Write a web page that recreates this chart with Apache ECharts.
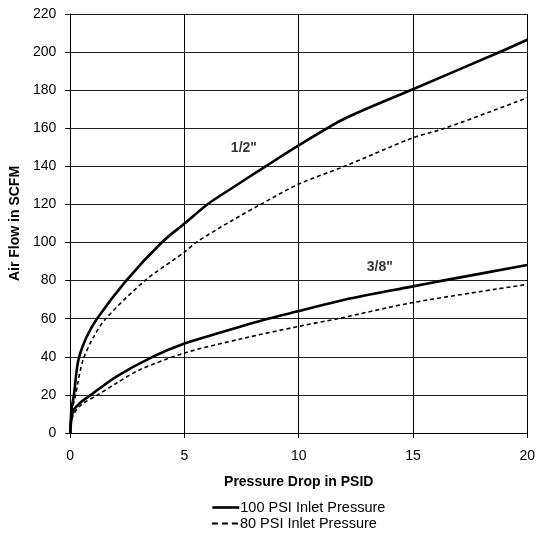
<!DOCTYPE html>
<html>
<head>
<meta charset="utf-8">
<script src="https://cdn.jsdelivr.net/npm/echarts@6/dist/echarts.min.js"></script>
<style>html,body{margin:0;padding:0;background:#fff}#c{width:538px;height:533px}</style>
</head>
<body>
<div id="c"></div>
<script>
// 1/2" valve, 100 PSI inlet
const half100X = [0, 0.05, 0.16, 0.35, 0.7, 1.17, 2.45, 4, 5, 6, 7, 8.55, 10, 12, 15, 18.7, 20];
const half100Y = [0, 12, 20, 38, 50, 60, 80, 100, 110, 120, 128, 140, 151, 165, 180.5, 199.5, 206.5];
// 1/2" valve, 80 PSI inlet
const half80X = [0, 0.05, 0.23, 0.55, 1, 1.55, 3.27, 5, 5.5, 7, 8.33, 10, 12, 15, 16.4, 20];
const half80Y = [0, 10, 20, 38, 50, 60, 80, 95, 100, 111, 120, 130.7, 140, 155, 160, 176];
// 3/8" valve, 100 PSI inlet
const three100X = [0, 0.05, 0.15, 0.5, 0.9, 2, 3.6, 5, 6.5, 8.65, 10, 12, 15, 16.3, 20];
const three100Y = [0, 7, 12, 16.5, 20, 29.5, 40, 47, 52.5, 60, 64, 70, 77, 80, 88.2];
// 3/8" valve, 80 PSI inlet
const three80X = [0, 0.05, 0.15, 0.5, 1.2, 2, 3, 5, 7.5, 10, 11.7, 15, 20];
const three80Y = [0, 6, 10, 15, 20, 26, 33, 42, 49.5, 56, 60, 68.5, 78];
// curve labels
const labelText = ['1/2"', '3/8"'];
const labelX = [7.6, 13.55];
const labelY = [149.7, 87];
const seriesNames = ['100 PSI Inlet Pressure', '80 PSI Inlet Pressure'];

const zip = (xs, ys) => xs.map((x, i) => [x, ys[i]]);
const FONT = 'Liberation Sans';

const solid = {type: 'solid', width: 2.6, color: '#000'};
const dashed = {type: [4, 3], width: 1.6, color: '#000'};

function lineSeries(name, data, ls) {
  return {
    name, type: 'line', data, smooth: 0.3,
    symbol: 'none', lineStyle: ls, itemStyle: {color: '#000'},
    silent: true, animation: false, z: 3
  };
}

function legendRow(name, top, ls) {
  return {
    data: [{name, itemStyle: {opacity: 0}, lineStyle: ls}],
    orient: 'horizontal', left: 211, top,
    itemWidth: 27, itemHeight: 12, padding: 0,
    textStyle: {fontFamily: FONT, fontSize: 14.5, color: '#000', padding: [0, 0, 0, -4]},
    selectedMode: false
  };
}

const chart = echarts.init(document.getElementById('c'), null, {renderer: 'canvas'});
chart.setOption({
  backgroundColor: '#fff',
  animation: false,
  grid: {left: 68, top: 14, width: 461, height: 419, containLabel: false},
  xAxis: {
    type: 'value', min: 0, max: 20, interval: 5,
    name: 'Pressure Drop in PSID', nameLocation: 'middle', nameGap: 42,
    nameTextStyle: {fontFamily: FONT, fontSize: 14, fontWeight: 'bold', color: '#000'},
    axisLine: {show: true, lineStyle: {color: '#000', width: 1}},
    axisTick: {show: true, length: 5, lineStyle: {color: '#000'}},
    axisLabel: {fontFamily: FONT, fontSize: 14, color: '#000', margin: 16},
    splitLine: {show: true, lineStyle: {color: '#000', width: 1}}
  },
  yAxis: {
    type: 'value', min: 0, max: 220, interval: 20,
    name: 'Air Flow in SCFM', nameLocation: 'middle', nameGap: 46,
    nameTextStyle: {fontFamily: FONT, fontSize: 14, fontWeight: 'bold', color: '#000'},
    axisLine: {show: true, lineStyle: {color: '#000', width: 1}},
    axisTick: {show: true, length: 5, lineStyle: {color: '#000'}},
    axisLabel: {fontFamily: FONT, fontSize: 14, color: '#000', margin: 14},
    splitLine: {show: true, lineStyle: {color: '#222', width: 1}}
  },
  legend: [
    legendRow(seriesNames[0], 500, {type: 'solid', width: 2.6, color: '#000'}),
    legendRow(seriesNames[1], 516, {type: [6, 4], width: 1.8, color: '#000'})
  ],
  series: [
    lineSeries(seriesNames[0], zip(half100X, half100Y), solid),
    lineSeries(seriesNames[1], zip(half80X, half80Y), dashed),
    lineSeries(seriesNames[0], zip(three100X, three100Y), solid),
    lineSeries(seriesNames[1], zip(three80X, three80Y), dashed),
    {
      type: 'scatter', symbolSize: 0, silent: true, z: 5,
      data: labelText.map((t, i) => ({value: [labelX[i], labelY[i]], name: t})),
      label: {show: true, position: 'inside', formatter: p => p.name,
        fontFamily: FONT, fontSize: 14, fontWeight: 'bold', color: '#000'}
    }
  ]
});
</script>
</body>
</html>
